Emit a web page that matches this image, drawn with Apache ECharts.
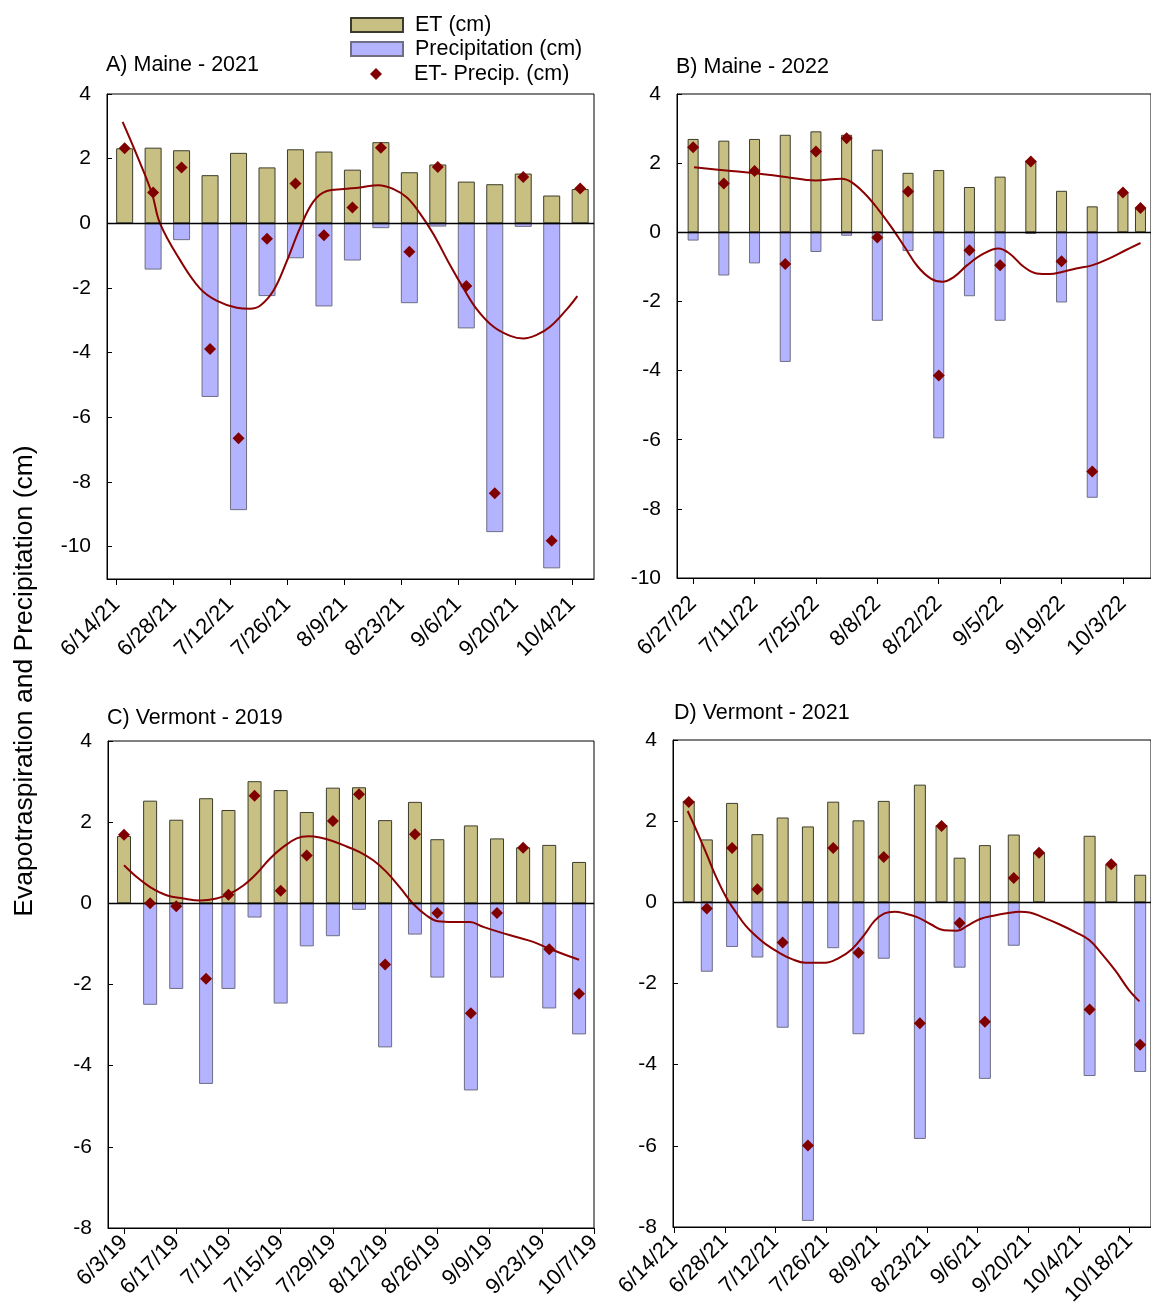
<!DOCTYPE html>
<html><head><meta charset="utf-8">
<script src="https://cdn.jsdelivr.net/npm/echarts@6/dist/echarts.min.js"></script>
<style>html,body{margin:0;padding:0;background:#fff}#c{width:1151px;height:1315px}</style>
</head><body><div id="c"></div>
<script>
// ---------- DATA ----------
// Panel A: Maine 2021
const ticksA = ['6/14/21','6/28/21','7/12/21','7/26/21','8/9/21','8/23/21','9/6/21','9/20/21','10/4/21'];
const datesA = ['6/16/21','6/23/21','6/30/21','7/7/21','7/14/21','7/21/21','7/28/21','8/4/21','8/11/21','8/18/21','8/25/21','9/1/21','9/8/21','9/15/21','9/22/21','9/29/21','10/6/21'];
const etA   = [2.32,2.34,2.26,1.49,2.18,1.73,2.29,2.22,1.66,2.51,1.58,1.82,1.29,1.21,1.54,0.86,1.06];
const prA   = [null,-1.43,-0.52,-5.37,-8.87,-2.25,-1.08,-2.57,-1.15,-0.15,-2.47,-0.10,-3.25,-9.55,-0.11,-10.67,null];
const diffA = [2.32,0.95,1.73,-3.89,-6.65,-0.48,1.23,-0.37,0.49,2.34,-0.88,1.74,-1.94,-8.35,1.43,-9.82,1.08];
const trendA_day = [1.5,5.0,8.7,10.7,15.6,20.5,24.6,29.6,32.8,35.3,38.6,41.8,45.1,48.4,51.7,55.8,59.9,64.4,68.1,71.4,74.6,77.9,82.0,85.3,88.6,92.7,96.8,100.0,103.3,106.6,110.7,113.3];
const trendA_val = [3.14,2.11,0.93,0,-1.13,-2.01,-2.39,-2.61,-2.64,-2.55,-2.08,-1.19,-0.15,0.67,1.00,1.06,1.11,1.18,1.06,0.80,0.31,-0.33,-1.29,-2.01,-2.66,-3.20,-3.48,-3.56,-3.45,-3.20,-2.66,-2.25];

// Panel B: Maine 2022
const ticksB = ['6/27/22','7/11/22','7/25/22','8/8/22','8/22/22','9/5/22','9/19/22','10/3/22'];
const datesB = ['6/27/22','7/4/22','7/11/22','7/18/22','7/25/22','8/1/22','8/8/22','8/15/22','8/22/22','8/29/22','9/5/22','9/12/22','9/19/22','9/26/22','10/3/22','10/7/22'];
const etB   = [2.70,2.65,2.70,2.82,2.92,2.82,2.39,1.72,1.80,1.31,1.61,2.08,1.20,0.75,1.15,0.70];
const prB   = [-0.24,-1.25,-0.90,-3.75,-0.57,-0.10,-2.56,-0.54,-5.96,-1.85,-2.56,-0.05,-2.03,-7.68,null,null];
const diffB = [2.46,1.41,1.77,-0.92,2.34,2.72,-0.15,1.18,-4.14,-0.52,-0.95,2.05,-0.84,-6.92,1.15,0.70];
const trendB_day = [0.2,7.5,14.3,21.1,27.9,33.9,36.1,39.1,42.1,45.2,48.2,51.2,54.2,56.8,59.5,62.5,66.2,69.6,72.2,75.3,78.3,81.3,84.3,87.3,91.1,94.8,98.6,102.0];
const trendB_val = [1.88,1.79,1.71,1.60,1.50,1.55,1.45,1.12,0.68,0.15,-0.42,-0.99,-1.34,-1.43,-1.29,-0.95,-0.62,-0.47,-0.62,-0.99,-1.19,-1.21,-1.14,-1.05,-0.95,-0.76,-0.52,-0.31];

// Panel C: Vermont 2019
const ticksC = ['6/3/19','6/17/19','7/1/19','7/15/19','7/29/19','8/12/19','8/26/19','9/9/19','9/23/19','10/7/19'];
const datesC = ['6/3/19','6/10/19','6/17/19','6/25/19','7/1/19','7/8/19','7/15/19','7/22/19','7/29/19','8/5/19','8/12/19','8/20/19','8/26/19','9/4/19','9/11/19','9/18/19','9/25/19','10/3/19'];
const etC   = [1.66,2.53,2.06,2.59,2.30,3.01,2.79,2.25,2.85,2.86,2.05,2.50,1.58,1.92,1.60,1.38,1.44,1.02];
const prC   = [null,-2.50,-2.11,-4.45,-2.11,-0.35,-2.47,-1.06,-0.81,-0.16,-3.55,-0.77,-1.83,-4.61,-1.83,null,-2.59,-3.23];
const diffC = [1.69,0.00,-0.07,-1.86,0.21,2.65,0.31,1.18,2.03,2.69,-1.51,1.70,-0.24,-2.71,-0.24,1.37,-1.13,-2.23];
const trendC_day = [0,3.4,7.0,11.4,15.9,20.4,24.8,28.4,32.0,35.5,39.1,42.7,46.3,49.4,52.5,56.1,59.7,63.2,66.8,70.4,73.9,77.5,81.1,84.2,88.2,92.7,96.3,100.7,105.2,109.7,114.1,118.6,122.0];
const trendC_val = [0.94,0.65,0.40,0.20,0.12,0.07,0.12,0.24,0.44,0.73,1.10,1.39,1.60,1.65,1.62,1.53,1.40,1.26,1.06,0.77,0.40,-0.01,-0.30,-0.44,-0.46,-0.46,-0.58,-0.71,-0.83,-0.95,-1.12,-1.28,-1.39];

// Panel D: Vermont 2021
const ticksD = ['6/14/21','6/28/21','7/12/21','7/26/21','8/9/21','8/23/21','9/6/21','9/20/21','10/4/21','10/18/21'];
const datesD = ['6/18/21','6/23/21','6/30/21','7/7/21','7/14/21','7/21/21','7/28/21','8/4/21','8/11/21','8/21/21','8/27/21','9/1/21','9/8/21','9/16/21','9/23/21','10/7/21','10/13/21','10/21/21'];
const etD   = [2.50,1.55,2.45,1.68,2.09,1.87,2.48,2.02,2.50,2.90,1.90,1.10,1.41,1.67,1.23,1.64,0.94,0.68];
const prD   = [null,-1.71,-1.10,-1.36,-3.09,-7.85,-1.13,-3.25,-1.39,-5.83,null,-1.61,-4.35,-1.07,null,-4.28,null,-4.18];
const diffD = [2.47,-0.15,1.34,0.32,-0.99,-5.99,1.34,-1.24,1.12,-2.98,1.88,-0.51,-2.94,0.60,1.22,-2.64,0.94,-3.51];
const trendD_day = [3.7,6.1,8.9,11.6,14.4,17.1,19.8,22.6,25.3,29.0,32.6,36.3,41.8,45.4,49.1,52.7,55.5,58.2,61.0,63.7,67.4,71.0,74.7,78.3,81.1,84.7,88.4,92.0,95.7,98.4,102.1,106.6,111.2,114.9,118.5,122.2,125.8,128.8];
const trendD_val = [2.25,1.78,1.20,0.62,0.12,-0.25,-0.58,-0.83,-1.03,-1.24,-1.40,-1.49,-1.49,-1.38,-1.16,-0.79,-0.45,-0.27,-0.23,-0.27,-0.37,-0.54,-0.69,-0.70,-0.58,-0.41,-0.33,-0.27,-0.23,-0.25,-0.37,-0.54,-0.74,-0.93,-1.28,-1.69,-2.15,-2.44];

const titles = ['A) Maine - 2021','B) Maine - 2022','C) Vermont - 2019','D) Vermont - 2021'];
const yTicksA = [-10,-8,-6,-4,-2,0,2,4];
const yTicksB = [-10,-8,-6,-4,-2,0,2,4];
const yTicksC = [-8,-6,-4,-2,0,2,4];
const yTicksD = [-8,-6,-4,-2,0,2,4];
const yAxisTitle = 'Evapotraspiration and Precipitation (cm)';
const nameET = 'ET (cm)', namePR = 'Precipitation (cm)', nameDiff = 'ET- Precip. (cm)';

// ---------- LAYOUT ----------
const FONT = '"Liberation Sans", Arial, sans-serif';
const panels = [
  {ticks:ticksA, dates:datesA, et:etA, pr:prA, diff:diffA, tx:trendA_day, ty:trendA_val, yt:yTicksA,
   grid:{left:107, top:94, width:487, height:485}, xmin:-2.34, xmax:117.4, ymin:-11, ymax:4, barW:17, xm:22, tl:{left:106, top:54}},
  {ticks:ticksB, dates:datesB, et:etB, pr:prB, diff:diffB, tx:trendB_day, ty:trendB_val, yt:yTicksB,
   grid:{left:677, top:94, width:479, height:484}, xmin:-3.68, xmax:104.4, ymin:-10, ymax:4, barW:11, xm:22, tl:{left:676, top:56}},
  {ticks:ticksC, dates:datesC, et:etC, pr:prC, diff:diffC, tx:trendC_day, ty:trendC_val, yt:yTicksC,
   grid:{left:108, top:741, width:486, height:487}, xmin:-4.29, xmax:126, ymin:-8, ymax:4, barW:14, xm:11, tl:{left:107, top:707}},
  {ticks:ticksD, dates:datesD, et:etD, pr:prD, diff:diffD, tx:trendD_day, ty:trendD_val, yt:yTicksD,
   grid:{left:673, top:740, width:483, height:487}, xmin:-0.36, xmax:132, ymin:-8, ymax:4, barW:12, xm:11, tl:{left:674, top:702}}
];

function toUTC(s){ const p = s.split('/').map(Number); return Date.UTC(2000+p[2], p[0]-1, p[1]); }

const grids=[], xAxes=[], yAxes=[], series=[], titleArr=[];
panels.forEach((p,i)=>{
  const base = toUTC(p.ticks[0]);
  const dayOf = s => (toUTC(s)-base)/864e5;
  const tickDays = p.ticks.map(dayOf);
  const labelMap = {};
  p.ticks.forEach((t,k)=>{ labelMap[Math.round(tickDays[k])] = t; });
  const xs = p.dates.map(dayOf);
  grids.push(Object.assign({show:true, borderColor:'#000', borderWidth:1, backgroundColor:'transparent'}, p.grid));
  xAxes.push({type:'value', gridIndex:i, min:p.xmin, max:p.xmax,
    axisLine:{show:true, onZero:false, lineStyle:{color:'#000', width:1}},
    axisTick:{show:true, inside:false, length:6, customValues:tickDays, lineStyle:{color:'#000'}},
    axisLabel:{show:true, rotate:45, margin:p.xm, customValues:tickDays, color:'#000', fontSize:22, fontFamily:FONT,
      formatter:v=>labelMap[Math.round(v)]||''},
    splitLine:{show:false}});
  yAxes.push({type:'value', gridIndex:i, min:p.ymin, max:p.ymax,
    axisLine:{show:true, onZero:false, lineStyle:{color:'#000', width:1}},
    axisTick:{show:true, inside:true, length:5, customValues:p.yt, lineStyle:{color:'#000'}},
    axisLabel:{show:true, margin:16, customValues:p.yt, color:'#000', fontSize:21, fontFamily:FONT},
    splitLine:{show:false}});
  titleArr.push({text:titles[i], left:p.tl.left, top:p.tl.top, padding:0,
    textStyle:{fontSize:21.5, fontWeight:'normal', color:'#000', fontFamily:FONT}});
  series.push({name:nameET, type:'bar', xAxisIndex:i, yAxisIndex:i, barWidth:p.barW, barGap:'-100%',
    data:xs.map((x,k)=>[x,p.et[k]]),
    itemStyle:{color:'#C8C082', borderColor:'#3c3c2c', borderWidth:1},
    markLine:{silent:true, symbol:['none','none'], label:{show:false}, animation:false,
      lineStyle:{color:'#000', width:1.3, type:'solid'}, data:[{yAxis:0}]}, z:2});
  series.push({name:namePR, type:'bar', xAxisIndex:i, yAxisIndex:i, barWidth:p.barW, barGap:'-100%',
    data:xs.map((x,k)=>[x,p.pr[k]]),
    itemStyle:{color:'#B3B3FF', borderColor:'#6e6e84', borderWidth:1}, z:2});
  series.push({name:'trend', type:'line', xAxisIndex:i, yAxisIndex:i, showSymbol:false, smooth:0.4,
    data:p.tx.map((x,k)=>[x,p.ty[k]]), lineStyle:{color:'#8B0000', width:2}, z:4});
  series.push({name:nameDiff, type:'scatter', xAxisIndex:i, yAxisIndex:i, symbol:'diamond', symbolSize:12,
    data:xs.map((x,k)=>[x,p.diff[k]]), itemStyle:{color:'#800000', opacity:1}, z:5});
});

const legTxt = {fontSize:21.5, color:'#000', fontFamily:FONT, padding:[0,0,0,7]};
const option = {
  animation:false,
  backgroundColor:'#fff',
  title:titleArr,
  legend:[
    {data:[nameET], left:350, top:14, padding:0, itemWidth:52, itemHeight:14, icon:'rect', textStyle:legTxt, selectedMode:false},
    {data:[namePR], left:350, top:38, padding:0, itemWidth:52, itemHeight:14, icon:'rect', textStyle:legTxt, selectedMode:false},
    {data:[nameDiff], left:370, top:63, padding:0, itemWidth:12, itemHeight:12, icon:'diamond',
      textStyle:Object.assign({}, legTxt, {padding:[0,0,0,27]}), selectedMode:false}
  ],
  grid:grids, xAxis:xAxes, yAxis:yAxes, series:series,
  graphic:[{type:'text', x:25, y:681, rotation:Math.PI/2,
    style:{text:yAxisTitle, font:'26.5px '+FONT, fill:'#000', textAlign:'center', textVerticalAlign:'middle'}}]
};
const chart = echarts.init(document.getElementById('c'), null, {renderer:'canvas'});
chart.setOption(option);
</script></body></html>
